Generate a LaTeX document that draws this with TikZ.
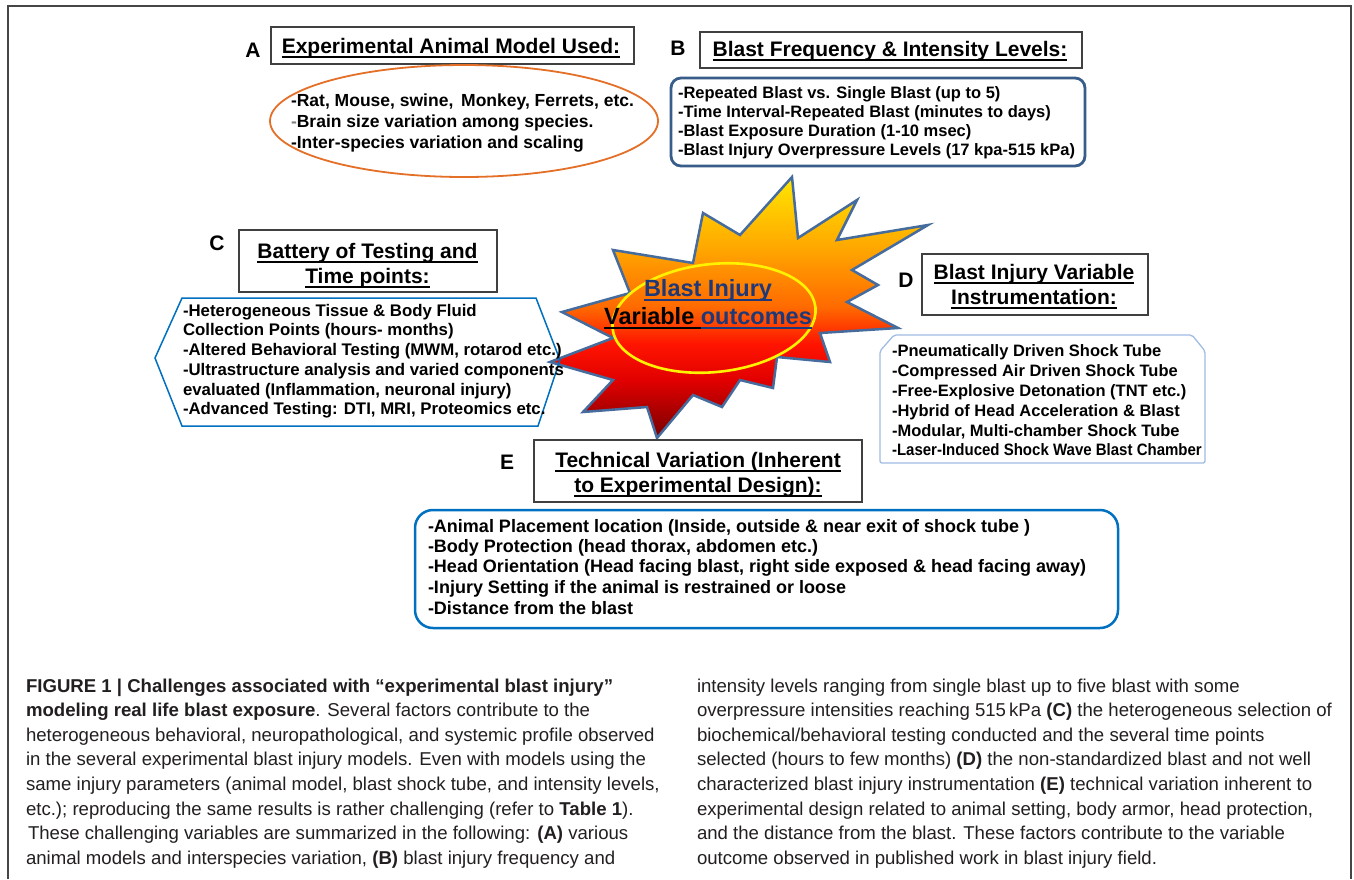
\documentclass[tikz,border=0pt]{standalone}
\usepackage{fontspec}
\setmainfont{Liberation Sans}
\usepackage{graphicx}

\definecolor{framegray}{RGB}{70,70,70}
\definecolor{boxgray}{RGB}{64,64,64}
\definecolor{aorange}{RGB}{228,112,40}
\definecolor{bsteel}{RGB}{56,93,138}
\definecolor{cblue}{RGB}{0,112,192}
\definecolor{dlight}{RGB}{160,188,226}
\definecolor{eblue}{RGB}{0,112,192}
\definecolor{burstedge}{RGB}{70,108,158}
\definecolor{navytext}{RGB}{31,56,120}
\definecolor{captext}{RGB}{35,31,32}
\definecolor{bdark}{RGB}{120,0,0}
\definecolor{bred}{RGB}{225,0,0}
\definecolor{bred2}{RGB}{255,20,0}
\definecolor{borange}{RGB}{255,105,0}
\definecolor{borange2}{RGB}{255,165,0}
\definecolor{byellow}{RGB}{255,230,0}

% colour run of the starburst, dark red at the bottom to yellow at the top
\pgfdeclareverticalshading{blastfill}{100bp}{%
  color(0bp)=(bdark); color(25bp)=(bdark); color(36bp)=(bred);
  color(43bp)=(bred2); color(50bp)=(borange); color(61bp)=(borange2);
  color(75bp)=(byellow); color(100bp)=(byellow)}

% heading underline, drawn in the current text colour
\newsavebox{\ulbox}
\newcommand{\headul}[1]{\leavevmode\sbox{\ulbox}{#1}%
  \rlap{\rule[-4.3pt]{\wd\ulbox}{1.7pt}}\usebox{\ulbox}}

\tikzset{
  titlebox/.style={draw=boxgray, line width=1.2pt},
  ttl/.style={anchor=base, inner sep=0pt, outer sep=0pt,
    font={\fontsize{21}{24}\selectfont\bfseries}},
  letter/.style={anchor=base, inner sep=0pt, outer sep=0pt,
    font={\fontsize{21}{24}\selectfont\bfseries}},
  bodyA/.style={anchor=base west, inner sep=0pt, outer sep=0pt,
    font={\fontsize{17.5}{20}\selectfont\bfseries}},
  bodyB/.style={anchor=base west, inner sep=0pt, outer sep=0pt,
    font={\fontsize{16.5}{19}\selectfont\bfseries}},
  bodyC/.style={anchor=base west, inner sep=0pt, outer sep=0pt,
    font={\fontsize{16.8}{19}\selectfont\bfseries}},
  bodyD/.style={anchor=base west, inner sep=0pt, outer sep=0pt,
    font={\fontsize{16.5}{19}\selectfont\bfseries}},
  bodyE/.style={anchor=base west, inner sep=0pt, outer sep=0pt,
    font={\fontsize{18}{20}\selectfont\bfseries}},
  centre/.style={anchor=base, inner sep=0pt, outer sep=0pt,
    font={\fontsize{23.5}{26}\selectfont\bfseries}},
  captxt/.style={anchor=base west, inner sep=0pt, outer sep=0pt,
    text=captext, font={\fontsize{18.6}{22}\selectfont}}
}

\begin{document}
\begin{tikzpicture}[x=1pt,y=-1pt]
\useasboundingbox (0,0) rectangle (1354,879);
\fill[white] (0,0) rectangle (1354,879);

% outer frame, open at the bottom
\draw[framegray, line width=1.5pt] (8,879) -- (8,6) -- (1351,6) -- (1351,879);

% ---------- central starburst ----------
\draw[shading=blastfill, draw=burstedge, line width=2.5pt, line join=miter]
  (613,250) -- (693,263) -- (703,213) -- (740,235) -- (792,177) -- (798,238)
  -- (857,200) -- (837,240) -- (928,225) -- (852,270) -- (878,285) -- (847,302)
  -- (898,328) -- (820,333) -- (830,362) -- (777,357) -- (773,388) -- (740,380)
  -- (722,407) -- (693,395) -- (657,438) -- (647,407) -- (583,412) -- (613,380)
  -- (550,362) -- (613,338) -- (562,312) -- (630,293) -- cycle;
\draw[yellow, line width=2.6pt, rotate around={6:(714,318)}]
  (714,318) ellipse [x radius=102, y radius=54];
\node[centre] (core1) at (708,296.5)
  {\color{navytext}\headul{Blast Injury}};
\node[centre] (core2) at (708,324.5)
  {\color{black}\headul{Variable\ }\color{navytext}\headul{outcomes}};

% ---------- A ----------
\node[letter] (labA) at (253,57) {A};
\draw[titlebox] (271,27) rectangle (634,64);
\node[ttl] (ttlA) at (451,53.5) {\headul{Experimental Animal Model Used:}};
\draw[aorange, line width=1.8pt] (464,121) ellipse [x radius=194, y radius=56];
\node[bodyA] (a1) at (291,106) {-Rat, Mouse, swine, \,Monkey, Ferrets, etc.};
\node[bodyA] (a2) at (291,127) {{\color{gray}-}Brain size variation among species.};
\node[bodyA] (a3) at (291,148) {-Inter-species variation and scaling};

% ---------- B ----------
\node[letter] (labB) at (678,55.5) {B};
\draw[titlebox] (700,32) rectangle (1082,68);
\node[ttl] (ttlB) at (890,56.5) {\headul{Blast Frequency \& Intensity Levels:}};
\draw[bsteel, line width=2.8pt, rounded corners=10pt] (671,78) rectangle (1085,166);
\node[bodyB] (b1) at (678,98) {-Repeated Blast vs. Single Blast (up to 5)};
\node[bodyB] (b2) at (678,117) {-Time Interval-Repeated Blast (minutes to days)};
\node[bodyB] (b3) at (678,136) {-Blast Exposure Duration (1-10 msec)};
\node[bodyB] (b4) at (678,155) {-Blast Injury Overpressure Levels (17 kpa-515 kPa)};

% ---------- C ----------
\node[letter] (labC) at (217,250.5) {C};
\draw[titlebox] (239,230) rectangle (497,292);
\node[ttl] (ttlC1) at (367.5,258.5) {\headul{Battery of Testing and}};
\node[ttl] (ttlC2) at (367.5,283.5) {\headul{Time points:}};
\draw[cblue, line width=1.5pt]
  (155,358) -- (182,298) -- (536,298) -- (560,360) -- (538,426) -- (182,426) -- cycle;
\node[bodyC] (c1) at (183,316) {-Heterogeneous Tissue \& Body Fluid};
\node[bodyC] (c2) at (183,335) {Collection Points (hours- months)};
\node[bodyC] (c3) at (183,355) {-Altered Behavioral Testing (MWM, rotarod etc.)};
\node[bodyC] (c4) at (183,375) {-Ultrastructure analysis and varied components};
\node[bodyC] (c5) at (183,395) {evaluated (Inflammation, neuronal injury)};
\node[bodyC] (c6) at (183,414) {-Advanced Testing: DTI, MRI, Proteomics etc.};

% ---------- D ----------
\node[letter] (labD) at (906,287.5) {D};
\draw[titlebox] (922,254) rectangle (1148,315);
\node[ttl] (ttlD1) at (1034,279.5) {\headul{Blast Injury Variable}};
\node[ttl] (ttlD2) at (1034,304.5) {\headul{Instrumentation:}};
\draw[dlight, line width=1.3pt, rounded corners=2pt]
  (880,351) -- (894,335) -- (1192,335) -- (1205,351) -- (1205,463) -- (880,463) -- cycle;
\node[bodyD] (d1) at (892,356) {-Pneumatically Driven Shock Tube};
\node[bodyD] (d2) at (892,376) {-Compressed Air Driven Shock Tube};
\node[bodyD] (d3) at (892,396) {-Free-Explosive Detonation (TNT etc.)};
\node[bodyD] (d4) at (892,416) {-Hybrid of Head Acceleration \& Blast};
\node[bodyD] (d5) at (892,436) {-Modular, Multi-chamber Shock Tube};
\node[bodyD] (d6) at (892,455) {\scalebox{0.91}[1]{-Laser-Induced Shock Wave Blast Chamber}};

% ---------- E ----------
\node[letter] (labE) at (507,469.5) {E};
\draw[titlebox] (534,440) rectangle (862,502);
\node[ttl] (ttlE1) at (698,467.5) {\headul{Technical Variation (Inherent}};
\node[ttl] (ttlE2) at (698,492.5) {\headul{to Experimental Design):}};
\draw[eblue, line width=2.5pt, rounded corners=18pt] (415,510) rectangle (1118,628);
\node[bodyE] (e1) at (428,532.5) {-Animal Placement location (Inside, outside \& near exit of shock tube )};
\node[bodyE] (e2) at (428,552.5) {-Body Protection (head thorax, abdomen etc.)};
\node[bodyE] (e3) at (428,572.5) {-Head Orientation (Head facing blast, right side exposed \& head facing away)};
\node[bodyE] (e4) at (428,593.5) {-Injury Setting if the animal is restrained or loose};
\node[bodyE] (e5) at (428,614.5) {-Distance from the blast};

% ---------- caption, left column ----------
\node[captxt] (l1) at (26,692.1) {\textbf{FIGURE 1 | Challenges associated with “experimental blast injury”}};
\node[captxt] (l2) at (26,716.7) {\textbf{modeling real life blast exposure}. Several factors contribute to the};
\node[captxt] (l3) at (26,741.3) {heterogeneous behavioral, neuropathological, and systemic profile observed};
\node[captxt] (l4) at (26,765.9) {in the several experimental blast injury models. Even with models using the};
\node[captxt] (l5) at (26,790.5) {same injury parameters (animal model, blast shock tube, and intensity levels,};
\node[captxt] (l6) at (26,815.1) {etc.); reproducing the same results is rather challenging (refer to \textbf{Table 1}).};
\node[captxt] (l7) at (28,839.7) {These challenging variables are summarized in the following: \textbf{(A)} various};
\node[captxt] (l8) at (26,864.3) {animal models and interspecies variation, \textbf{(B)} blast injury frequency and};

% ---------- caption, right column ----------
\node[captxt] (r1) at (697,692.1) {intensity levels ranging from single blast up to five blast with some};
\node[captxt] (r2) at (697,716.7) {overpressure intensities reaching 515\,kPa \textbf{(C)} the heterogeneous selection of};
\node[captxt] (r3) at (697,741.3) {biochemical/behavioral testing conducted and the several time points};
\node[captxt] (r4) at (697,765.9) {selected (hours to few months) \textbf{(D)} the non-standardized blast and not well};
\node[captxt] (r5) at (697,790.5) {characterized blast injury instrumentation \textbf{(E)} technical variation inherent to};
\node[captxt] (r6) at (697,815.1) {experimental design related to animal setting, body armor, head protection,};
\node[captxt] (r7) at (697,839.7) {and the distance from the blast. These factors contribute to the variable};
\node[captxt] (r8) at (697,864.3) {outcome observed in published work in blast injury field.};
\end{tikzpicture}
\end{document}
